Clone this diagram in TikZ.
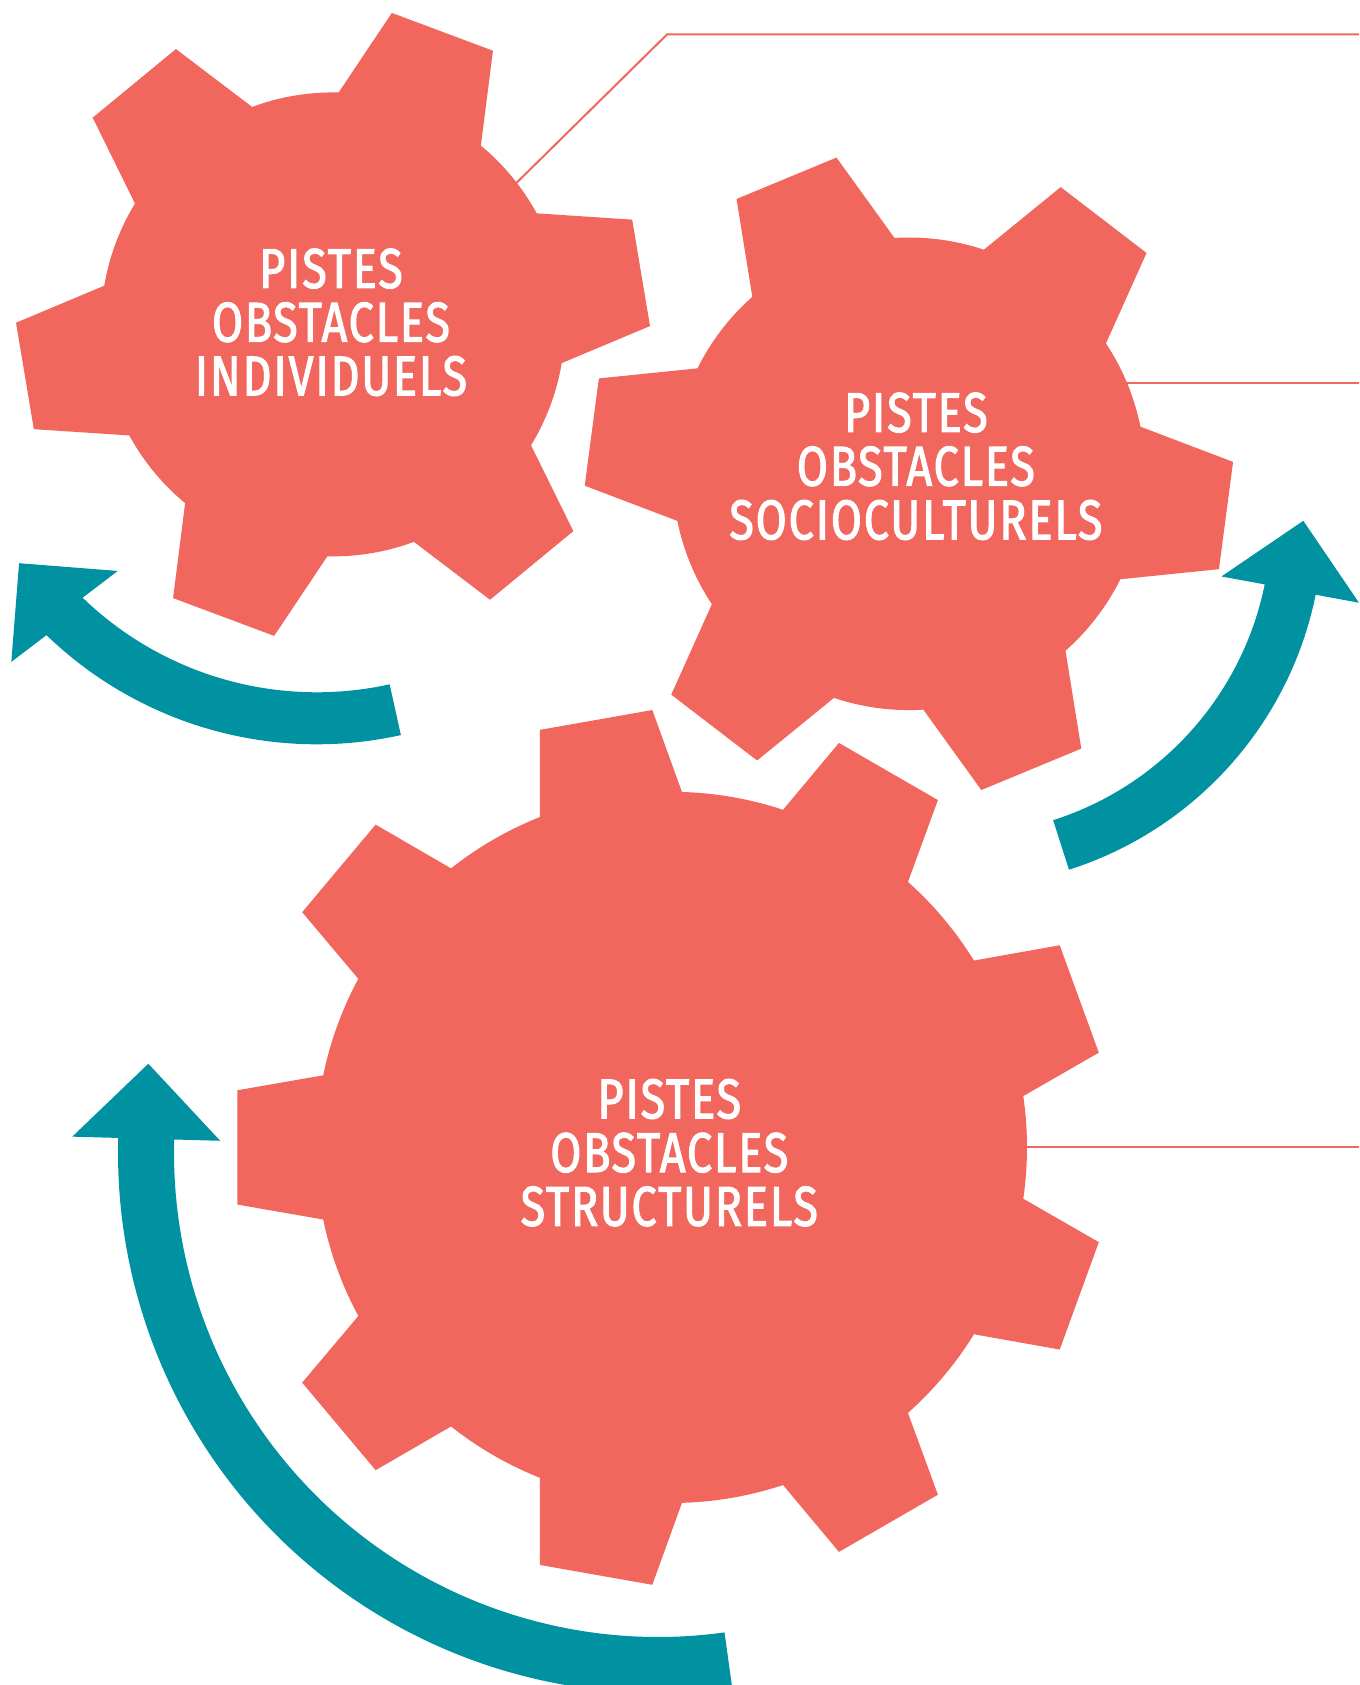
\documentclass[tikz,border=0pt]{standalone}
\usepackage{fontspec}
\newfontfamily\gearfont[FakeStretch=0.8,LetterSpace=3.5,FakeBold=2]{Fira Sans}
\usetikzlibrary{calc}
\definecolor{gearred}{RGB}{241,102,93}
\definecolor{arrowteal}{RGB}{0,146,160}
\tikzset{
  gearfill/.style={fill=gearred},
  arrowfill/.style={fill=arrowteal},
  link/.style={draw=gearred, line width=2pt},
  geartext/.style={text=white, align=center, inner sep=0pt,
    font=\gearfont\fontsize{56}{53.7}\selectfont}
}
% #1 centre, #2 teeth, #3 root radius, #4 tip radius, #5 first tooth angle, #6 base half-angle, #7 tip half-angle
\newcommand\drawgear[7]{%
  \pgfmathsetmacro\gstep{360/#2}%
  \pgfmathtruncatemacro\glast{#2-1}%
  \fill[gearfill] ($(#1)+({#5-#6}:#3)$)
  \foreach \k in {0,...,\glast} {
    -- ($(#1)+({#5+\k*\gstep-#6}:#3)$)
    -- ($(#1)+({#5+\k*\gstep-#7}:#4)$)
    -- ($(#1)+({#5+\k*\gstep+#7}:#4)$)
    -- ($(#1)+({#5+\k*\gstep+#6}:#3)$)
    arc[start angle={#5+\k*\gstep+#6}, end angle={#5+(\k+1)*\gstep-#6}, radius=#3]
  } -- cycle;}
% #1 centre, #2 mid radius, #3 half width, #4 start angle, #5 end angle,
% #6 head length, #7 head half width, #8 tangent offset, #9 head tilt
\newcommand\drawarrow[9]{%
  \pgfmathsetmacro\ro{#2+#3}%
  \pgfmathsetmacro\ri{#2-#3}%
  \pgfmathsetmacro\hphi{#5+#9}%
  \pgfmathsetmacro\hphib{#5+#9+180}%
  \pgfmathsetmacro\tang{#5+#9+#8}%
  \fill[arrowfill] ($(#1)+(#4:\ro)$) arc[start angle=#4, end angle=#5, radius=\ro]
    -- ($(#1)+(#5:#2)+(\hphi:#7)$) -- ($(#1)+(#5:#2)+(\tang:#6)$) -- ($(#1)+(#5:#2)+(\hphib:#7)$)
    -- ($(#1)+(#5:\ri)$) arc[start angle=#5, end angle=#4, radius=\ri] -- cycle;}
\begin{document}
\begin{tikzpicture}[x=1pt,y=1pt]
  \useasboundingbox (0,0) rectangle (1359,-1685);
  \fill[white] (0,0) rectangle (1359,-1685);
  \clip (0,0) rectangle (1359,-1685);
  % centres
  \coordinate (g1) at (333,-324.4);
  \coordinate (g2) at (908.9,-473.8);
  \coordinate (g3) at (671.4,-1147.4);
  \coordinate (a1c) at (316.7,-355.3);
  \coordinate (a2c) at (958,-522);
  \coordinate (a3c) at (658,-1153);
  % connector lines
  \coordinate (l1in) at (453.4,-245);
  \coordinate (l1bend) at (667.1,-34.4);
  \coordinate (l1end) at (1359,-34.4);
  \coordinate (l2in) at (1000,-382.7);
  \coordinate (l2end) at (1359,-382.7);
  \coordinate (l3end) at (1359,-1147.4);
  \draw[link] (l1in) -- (l1bend) -- (l1end);
  \draw[link] (l2in) -- (l2end);
  \draw[link] (g3) -- (l3end);
  % gears
  \drawgear{g1}{6}{232}{317}{9.5}{19.1}{9.8}
  \drawgear{g2}{6}{236.3}{324.4}{-7.5}{19}{9.6}
  \drawgear{g3}{9}{355.6}{437.8}{20}{11.7}{7.5}
  % arrows
  \drawarrow{a1c}{363}{26}{-77.5}{-134}{70}{70}{-90}{-5.5}
  \drawarrow{a2c}{339}{26}{-72.3}{-11.5}{70}{70}{90}{0.7}
  \drawarrow{a3c}{512}{28}{-82.1}{-181.6}{75}{74}{-90}{0}
  % texts
  \node[geartext] (t1) at (331,-322.3) {PISTES\\OBSTACLES\\INDIVIDUELS};
  \node[geartext] (t2) at (915.9,-466.3) {PISTES\\OBSTACLES\\SOCIOCULTURELS};
  \node[geartext] (t3) at (669.3,-1152.7) {PISTES\\OBSTACLES\\STRUCTURELS};
\end{tikzpicture}
\end{document}
